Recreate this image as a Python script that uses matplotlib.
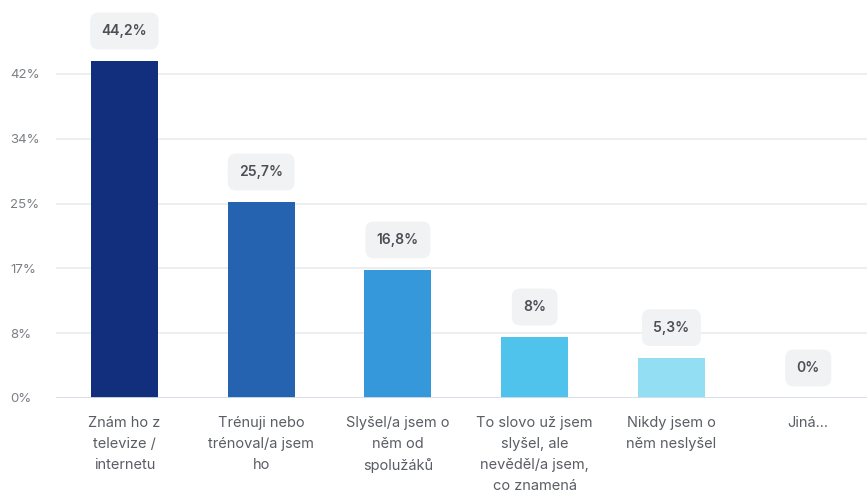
import matplotlib
matplotlib.use("Agg")
import matplotlib.pyplot as plt

categories = [
    "Znám ho z\ntelevize /\ninternetu",
    "Trénuji nebo\ntrénoval/a jsem\nho",
    "Slyšel/a jsem o\nněm od\nspolužáků",
    "To slovo už jsem\nslyšel, ale\nnevěděl/a jsem,\nco znamená",
    "Nikdy jsem o\nněm neslyšel",
    "Jiná...",
]
values = [44.2, 25.7, 16.8, 8.0, 5.3, 0.0]
value_labels = ["44,2%", "25,7%", "16,8%", "8%", "5,3%", "0%"]
colors = ["#122F7E", "#2563B0", "#3498DB", "#4FC3EC", "#93DEF3", "#C8EEF9"]
ytick_values = [0, 8.5, 17, 25.5, 34, 42.5]
ytick_labels = ["0%", "8%", "17%", "25%", "34%", "42%"]

plt.rcParams["font.family"] = ["Inter", "DejaVu Sans"]

fig = plt.figure(figsize=(8.67, 4.93), dpi=100)
W, H = 867, 493
left, right = 56, 867
bottom, top = 398, 32
ax = fig.add_axes([left / W, 1 - bottom / H, (right - left) / W, (bottom - top) / H])

x = list(range(len(categories)))
ax.bar(x, values, width=0.49, color=colors, zorder=3)

ax.set_xlim(-0.5, 5.43)
ax.set_ylim(0, 48.0)

ax.set_yticks(ytick_values)
ax.set_yticklabels(ytick_labels, color="#7B7F85", fontsize=9.5)
ax.set_xticks(x)
ax.set_xticklabels(categories, color="#5A5E64", fontsize=10.5, linespacing=1.62, va="top")
ax.tick_params(axis="both", length=0)
ax.tick_params(axis="x", pad=13)
ax.tick_params(axis="y", pad=33)
for lbl in ax.get_yticklabels():
    lbl.set_horizontalalignment("left")

ax.grid(axis="y", color="#E8EAEE", linewidth=1.1, zorder=0)
ax.axhline(0, color="#D6DDEA", linewidth=1.3, zorder=4)
for s in ax.spines.values():
    s.set_visible(False)

for xi, v, lab in zip(x, values, value_labels):
    ax.annotate(lab, (xi, v), xytext=(0, 30), textcoords="offset pixels",
                ha="center", va="center", fontsize=10, fontweight="semibold",
                color="#4B5057", zorder=5,
                bbox=dict(boxstyle="round,pad=0.82,rounding_size=0.6",
                          fc="#F1F2F3", ec="none"))

fig.savefig("out.png", dpi=100)
